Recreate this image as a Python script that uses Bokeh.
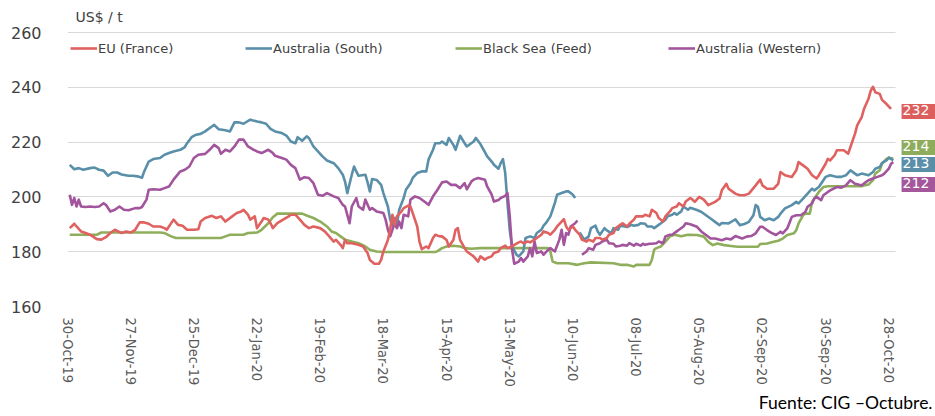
import numpy as np
import pandas as pd
from bokeh.plotting import figure
from bokeh.models import (Range1d, FixedTicker, DatetimeTickFormatter, Label, Title,
                          Legend, LegendItem, ColumnDataSource, BoxAnnotation)
from bokeh.embed import file_html
from bokeh.resources import INLINE

# ---------------- data (days since 30-Oct-19, US$/t) ----------------
START_DATE = "2019-10-30"

eu_france = [
    (1, 188.6), (3, 190.2), (4, 189.2), (6, 187.4), (8, 186.8), (10, 186.2), (13, 184.6), (15, 184.4),
    (17, 185.3), (19, 186.8), (21, 188.0), (24, 186.8), (26, 187.4), (28, 187.0), (30, 188.0), (32, 190.7),
    (34, 190.7), (36, 190.2), (38, 189.2), (41, 189.2), (43, 188.6), (44, 188.0), (47, 191.7), (49, 189.8),
    (51, 189.5), (53, 188.0), (56, 188.0), (58, 188.2), (59, 191.0), (61, 192.3), (64, 193.1), (66, 192.3),
    (68, 192.9), (70, 191.0), (73, 192.9), (75, 194.1), (77, 194.7), (78, 195.3), (80, 193.5), (81, 191.7),
    (83, 192.9), (84, 188.6), (86, 191.0), (87, 192.3), (89, 191.7), (90, 190.4), (91, 188.6), (92, 189.5),
    (93, 190.4), (95, 191.4), (98, 192.9), (99, 193.5), (101, 193.5), (103, 191.7), (105, 189.8), (107, 188.6),
    (109, 189.2), (112, 188.6), (114, 187.4), (116, 185.6), (118, 183.7), (119, 184.3), (121, 182.5), (122, 181.3),
    (123, 184.3), (124, 183.1), (126, 183.1), (129, 182.5), (131, 181.9), (133, 179.5), (134, 177.0), (136, 175.6),
    (138, 175.6), (139, 177.0), (140, 180.1), (142, 184.3), (143, 188.0), (144, 193.5), (145, 189.8), (146, 192.9),
    (148, 194.7), (149, 195.9), (151, 196.8), (152, 196.5), (153, 194.1), (155, 189.2), (156, 183.7), (157, 180.9),
    (159, 181.9), (160, 181.3), (162, 185.0), (163, 186.2), (165, 185.6), (166, 185.6), (168, 184.3), (169, 181.9),
    (171, 184.3), (172, 188.0), (173, 188.6), (174, 184.3), (176, 181.3), (177, 180.1), (179, 178.9), (180, 178.3),
    (182, 176.4), (183, 178.3), (185, 177.1), (186, 177.7), (188, 178.3), (189, 179.5), (191, 180.1), (192, 181.3),
    (194, 182.2), (195, 181.3), (197, 181.9), (198, 182.5), (200, 183.4), (201, 183.7), (202, 183.1), (204, 183.7),
    (205, 183.4), (207, 184.4), (208, 185.0), (210, 186.2), (211, 187.4), (213, 186.8), (214, 186.2), (216, 188.0),
    (217, 189.2), (219, 191.0), (220, 191.9), (221, 189.2), (222, 188.0), (224, 189.2), (225, 188.0), (227, 186.2),
    (228, 184.4), (230, 183.7), (231, 184.4), (233, 183.7), (234, 185.0), (236, 185.0), (237, 184.4), (239, 185.0),
    (240, 186.2), (242, 186.8), (243, 188.6), (245, 189.8), (246, 190.4), (248, 189.2), (249, 190.2), (251, 191.7),
    (252, 192.9), (254, 192.9), (255, 192.9), (256, 193.5), (258, 192.9), (259, 195.3), (261, 194.1), (262, 192.3),
    (264, 191.0), (265, 192.9), (267, 194.7), (268, 195.9), (270, 196.5), (271, 197.7), (273, 196.5), (274, 198.3),
    (276, 199.6), (277, 199.0), (278, 198.2), (280, 200.0), (282, 199.0), (284, 197.0), (287, 198.2), (289, 199.4),
    (290, 202.4), (292, 204.8), (293, 203.0), (296, 201.2), (298, 200.6), (300, 200.6), (302, 201.2), (305, 204.2),
    (307, 206.3), (308, 204.2), (310, 203.0), (313, 203.0), (315, 204.8), (316, 209.1), (318, 207.9), (321, 207.3),
    (323, 209.7), (324, 212.7), (326, 211.5), (328, 210.3), (330, 207.9), (332, 206.7), (333, 207.9), (336, 212.1),
    (337, 213.9), (338, 213.3), (340, 215.2), (341, 217.0), (344, 217.0), (346, 215.8), (347, 218.2), (349, 223.0),
    (350, 226.1), (352, 229.1), (353, 232.1), (355, 235.8), (356, 238.8), (357, 240.2), (358, 238.2), (360, 237.6),
    (361, 235.4), (363, 233.9), (365, 232.1),
]

australia_south = [
    (1, 211.7), (3, 210.1), (5, 210.5), (7, 209.9), (10, 210.5), (12, 210.7), (14, 209.9), (16, 209.6),
    (18, 207.7), (20, 208.9), (22, 208.9), (24, 208.2), (27, 207.7), (29, 207.7), (31, 207.5), (33, 207.0),
    (34, 209.3), (36, 212.9), (38, 213.8), (41, 214.2), (43, 215.4), (45, 216.0), (47, 216.6), (50, 217.2),
    (52, 218.2), (53, 219.6), (55, 221.8), (57, 222.7), (59, 223.0), (61, 223.9), (64, 225.7), (65, 226.3),
    (67, 224.7), (70, 224.3), (72, 223.9), (74, 227.2), (76, 227.2), (78, 226.7), (81, 228.2), (84, 227.5),
    (86, 227.2), (88, 226.7), (90, 224.8), (92, 223.9), (95, 223.3), (97, 222.4), (99, 220.2), (101, 219.6),
    (102, 221.8), (104, 220.5), (106, 222.1), (107, 221.5), (109, 218.4), (111, 216.6), (113, 214.8), (115, 213.3),
    (118, 212.3), (120, 210.5), (122, 208.1), (123, 205.6), (124, 201.4), (126, 208.1), (127, 211.1), (128, 209.3),
    (129, 207.7), (132, 208.1), (133, 205.3), (134, 202.0), (135, 206.5), (137, 206.2), (139, 204.4), (140, 201.4),
    (142, 196.5), (143, 191.7), (144, 189.8), (145, 192.3), (146, 189.8), (147, 195.3), (149, 199.6), (150, 202.6),
    (152, 205.0), (153, 206.9), (155, 208.7), (157, 209.3), (159, 209.3), (160, 213.6), (162, 217.2), (163, 219.6),
    (165, 219.6), (166, 220.2), (168, 219.0), (169, 221.5), (171, 219.0), (172, 217.2), (174, 222.3), (176, 219.6),
    (177, 218.4), (180, 220.2), (181, 221.5), (183, 219.3), (185, 216.3), (186, 214.8), (188, 212.9), (189, 211.7),
    (191, 210.3), (192, 212.3), (193, 213.8), (194, 208.7), (195, 197.8), (196, 188.0), (197, 181.9), (199, 178.9),
    (200, 178.3), (202, 180.1), (203, 185.0), (205, 185.6), (207, 185.0), (208, 186.8), (210, 188.0), (211, 189.5),
    (212, 190.4), (214, 192.9), (215, 195.3), (216, 197.8), (217, 200.8), (219, 201.4), (221, 202.0), (222, 202.0),
    (224, 200.8), (225, 199.6), (226, None),
    (227, 187.0), (229, 184.4), (231, 185.6), (232, 188.6), (234, 189.5), (235, 187.4), (236, 186.2), (238, 188.6),
    (239, 187.8), (241, 186.8), (242, 188.6), (244, 188.0), (245, 189.5), (247, 189.2), (248, 189.0), (250, 189.8),
    (251, 189.5), (253, 189.8), (254, 190.4), (256, 190.2), (257, 189.2), (259, 189.2), (260, 188.6), (262, 189.8),
    (263, 190.4), (265, 191.7), (266, 192.9), (268, 193.5), (269, 194.1), (270, 193.5), (272, 194.7), (273, 196.5),
    (275, 195.3), (276, 196.0), (279, 195.2), (281, 194.5), (283, 193.3), (285, 192.1), (287, 190.9), (289, 189.7),
    (290, 190.5), (293, 190.3), (295, 191.3), (296, 191.8), (298, 189.7), (300, 190.1), (302, 190.9), (304, 193.3),
    (305, 197.0), (306, 196.4), (307, 192.7), (309, 191.5), (311, 192.1), (313, 191.5), (315, 192.7), (316, 193.9),
    (318, 195.8), (321, 197.0), (323, 198.2), (324, 197.6), (326, 199.4), (328, 201.2), (330, 203.0), (331, 202.4),
    (333, 203.6), (335, 206.1), (336, 207.3), (338, 207.9), (341, 207.3), (343, 207.3), (345, 207.9), (347, 209.7),
    (349, 208.5), (350, 207.9), (352, 208.5), (355, 207.9), (357, 209.1), (358, 210.3), (360, 210.9), (361, 212.4),
    (363, 213.3), (364, 214.3), (366, 213.3),
]

black_sea = [
    (1, 186.2), (13, 186.2), (15, 187.0), (41, 187.0), (43, 186.8), (46, 185.6), (48, 185.0), (68, 185.0),
    (70, 185.6), (72, 186.2), (78, 186.2), (80, 186.8), (84, 187.0), (86, 188.0), (89, 190.4), (91, 192.6),
    (93, 193.9), (104, 193.9), (106, 193.2), (109, 192.3), (112, 191.0), (115, 189.2), (117, 187.4), (119, 186.8),
    (121, 185.6), (123, 184.4), (126, 183.7), (129, 183.1), (132, 181.9), (134, 180.7), (137, 180.1), (140, 179.9),
    (163, 179.9), (164, 180.2), (166, 181.3), (168, 181.9), (171, 182.2), (174, 181.9), (176, 181.3), (179, 181.1),
    (183, 181.3), (213, 181.3), (214, 180.1), (215, 176.4), (217, 175.8), (222, 175.8), (226, 175.2), (229, 175.8),
    (232, 176.1), (242, 175.8), (245, 175.2), (248, 175.2), (251, 174.6), (252, 175.2), (258, 175.2), (259, 177.1),
    (260, 180.7), (261, 181.3), (263, 181.9), (265, 183.7), (267, 185.6), (269, 186.2), (272, 185.6), (275, 186.2),
    (279, 186.1), (282, 185.5), (284, 183.6), (286, 182.4), (288, 183.0), (291, 182.4), (294, 182.1), (297, 181.8),
    (306, 181.8), (307, 182.8), (310, 183.0), (313, 183.6), (315, 184.0), (317, 184.8), (319, 186.1), (322, 186.7),
    (323, 187.9), (324, 190.3), (326, 193.3), (327, 193.9), (329, 193.9), (330, 198.2), (332, 200.6), (333, 201.8),
    (335, 203.6), (337, 203.9), (352, 203.9), (353, 204.2), (355, 204.5), (357, 206.1), (358, 208.5), (360, 209.7),
    (361, 212.1), (363, 213.9), (364, 214.3), (366, 214.0),
]

australia_western = [
    (1, 200.8), (2, 197.1), (3, 199.6), (4, 196.5), (5, 199.0), (6, 196.5), (8, 196.3), (10, 196.5),
    (12, 196.3), (14, 196.5), (16, 197.7), (17, 197.1), (19, 194.7), (21, 195.3), (23, 196.5), (25, 195.3),
    (27, 195.1), (30, 195.9), (32, 195.9), (33, 196.3), (35, 199.0), (36, 202.6), (38, 202.8), (41, 202.6),
    (43, 203.2), (45, 203.8), (47, 206.3), (50, 209.3), (52, 209.9), (54, 211.1), (56, 214.2), (58, 215.4),
    (61, 215.7), (63, 217.2), (65, 219.0), (67, 217.8), (68, 215.7), (70, 217.2), (72, 216.6), (74, 218.4),
    (76, 220.9), (78, 220.9), (80, 218.4), (82, 217.4), (84, 216.6), (86, 216.0), (89, 217.2), (90, 216.6),
    (91, 216.0), (92, 215.0), (95, 214.2), (97, 213.6), (99, 211.7), (101, 210.5), (103, 206.3), (105, 207.2),
    (107, 206.9), (109, 205.0), (111, 200.8), (113, 200.4), (115, 201.4), (118, 200.2), (120, 199.6), (122, 197.1),
    (123, 196.5), (125, 190.4), (126, 196.5), (128, 199.6), (129, 196.5), (131, 195.3), (132, 199.0), (134, 195.3),
    (135, 195.9), (137, 194.7), (140, 194.1), (141, 191.7), (142, 188.0), (143, 185.6), (145, 190.4), (146, 188.6),
    (147, 191.0), (148, 188.6), (149, 193.5), (151, 192.9), (152, 199.0), (154, 200.2), (156, 199.6), (158, 198.4),
    (160, 197.1), (162, 200.2), (164, 202.6), (166, 205.3), (168, 205.6), (170, 204.4), (172, 204.4), (174, 203.2),
    (176, 205.0), (177, 202.8), (179, 205.6), (180, 206.3), (182, 206.9), (185, 206.3), (186, 203.8), (188, 200.8),
    (189, 198.3), (191, 198.9), (192, 199.6), (194, 200.4), (195, 201.4), (196, 193.0), (197, 181.0), (198, 175.6),
    (200, 176.4), (201, 177.7), (202, 176.4), (204, 178.3), (205, 181.3), (206, 178.3), (207, 183.7), (208, 179.5),
    (210, 180.1), (211, 178.9), (213, 180.7), (214, 181.3), (216, 180.1), (218, 184.4), (219, 188.0), (220, 182.5),
    (221, 186.8), (222, 186.2), (223, 189.2), (225, 190.4), (226, 191.4), (227, None),
    (228, 178.9), (230, 180.1), (231, 181.3), (233, 180.7), (234, 182.5), (236, 183.1), (237, 183.7), (239, 184.4),
    (240, 183.1), (242, 182.9), (243, 181.9), (245, 182.2), (246, 182.5), (248, 182.2), (249, 183.1), (251, 182.2),
    (252, 182.9), (254, 182.2), (255, 182.9), (256, 182.5), (258, 182.9), (259, 182.9), (261, 183.1), (262, 183.7),
    (264, 183.1), (265, 185.6), (267, 186.2), (268, 186.2), (270, 187.4), (271, 188.0), (273, 189.2), (274, 190.4),
    (276, 190.0), (279, 189.1), (281, 187.3), (283, 186.1), (285, 184.8), (287, 184.8), (290, 184.2), (292, 184.8),
    (294, 184.5), (296, 185.7), (299, 184.8), (301, 185.5), (303, 185.7), (305, 186.7), (307, 189.1), (308, 189.1),
    (310, 187.9), (312, 186.9), (314, 186.1), (316, 187.3), (317, 186.7), (319, 188.5), (321, 192.7), (323, 193.3),
    (325, 193.3), (327, 194.5), (328, 196.4), (330, 197.6), (331, 199.4), (332, 200.0), (334, 198.8), (335, 200.6),
    (337, 201.8), (338, 202.4), (341, 203.6), (343, 203.4), (345, 204.2), (347, 206.1), (349, 204.8), (350, 204.6),
    (352, 204.2), (354, 205.5), (355, 206.1), (357, 206.7), (359, 207.3), (361, 207.9), (362, 208.5), (364, 210.3),
    (365, 212.1), (366, 212.7),
]

series_names = ["EU (France)", "Australia (South)", "Black Sea (Feed)", "Australia (Western)"]
last_values = [232, 214, 213, 212]          # end-of-series tags (top to bottom)
last_value_series = ["EU (France)", "Black Sea (Feed)", "Australia (South)", "Australia (Western)"]
x_tick_labels = ["30-Oct-19", "27-Nov-19", "25-Dec-19", "22-Jan-20", "19-Feb-20", "18-Mar-20", "15-Apr-20",
                 "13-May-20", "10-Jun-20", "08-Jul-20", "05-Aug-20", "02-Sep-20", "30-Sep-20", "28-Oct-20"]
y_ticks = [160, 180, 200, 220, 240, 260]

# ---------------- styling / layout ----------------
COLORS = {
    "EU (France)": "#df6260",
    "Australia (South)": "#5a8fa9",
    "Black Sea (Feed)": "#8fae5b",
    "Australia (Western)": "#a2559c",
}
TAG_COLORS = {
    "EU (France)": "#dd5f5d",
    "Australia (South)": "#5b8ea8",
    "Black Sea (Feed)": "#8fac5c",
    "Australia (Western)": "#a4579b",
}
TAG_Y = [231.2, 218.0, 211.8, 204.5]   # tag centres (value units), staggered to avoid overlap
LEGEND_X = [3, 178, 388, 601]          # screen offsets of legend items inside the frame
PLOT_DAYS = 367                        # plotted time span (grid lines end here)
FRAME_DAYS = 384.7                     # frame extends further right to hold the end tags
Y_TOP = 271.68                         # frame top (room for the unit label)

start = pd.Timestamp(START_DATE)
epoch = pd.Timestamp("1970-01-01")


def to_ms(ts):
    return (ts - epoch) / pd.Timedelta("1ms")


def make_source(pairs):
    days = [d for d, _ in pairs]
    vals = [np.nan if v is None else v for _, v in pairs]
    dates = start + pd.to_timedelta(days, unit="D")
    return ColumnDataSource(data=dict(date=dates, value=vals))


x_start = start
x_plot_end = start + pd.Timedelta(days=PLOT_DAYS)
x_frame_end = start + pd.Timedelta(days=FRAME_DAYS)

p = figure(width=935, height=416, x_axis_type="datetime", output_backend="svg",
           toolbar_location=None,
           x_range=Range1d(x_start, x_frame_end), y_range=Range1d(160, Y_TOP),
           min_border_left=67, min_border_right=0, min_border_top=0, min_border_bottom=110)
p.outline_line_color = None
p.background_fill_color = "white"
p.border_fill_color = "white"

p.xgrid.visible = False
p.ygrid.grid_line_color = "#d9d9d9"
p.ygrid.grid_line_width = 1

p.yaxis.ticker = FixedTicker(ticks=y_ticks)
p.yaxis.axis_line_color = None
p.yaxis.major_tick_line_color = None
p.yaxis.minor_tick_line_color = None
p.yaxis.major_label_standoff = 20
p.yaxis.major_label_text_font = "DejaVu Sans"
p.yaxis.major_label_text_font_size = "16px"
p.yaxis.major_label_text_color = "#404040"

tick_ms = [to_ms(pd.to_datetime(t, format="%d-%b-%y")) for t in x_tick_labels]
p.xaxis.ticker = FixedTicker(ticks=tick_ms)
fmt = "%d-%b-%y"
p.xaxis.formatter = DatetimeTickFormatter(days=fmt, months=fmt, years=fmt, hours=fmt,
                                          minutes=fmt, seconds=fmt, milliseconds=fmt,
                                          microseconds=fmt, minsec=fmt, hourmin=fmt)
p.xaxis.axis_line_color = None
p.xaxis.major_tick_line_color = None
p.xaxis.minor_tick_line_color = None
p.xaxis.major_label_orientation = "vertical"
p.xaxis.major_label_standoff = 5
p.xaxis.major_label_text_font = "'DejaVu Sans Condensed', sans-serif"
p.xaxis.major_label_text_font_size = "14.5px"
p.xaxis.major_label_text_color = "#5a5a5a"

series = {
    "EU (France)": eu_france,
    "Australia (South)": australia_south,
    "Black Sea (Feed)": black_sea,
    "Australia (Western)": australia_western,
}
draw_order = ["Black Sea (Feed)", "Australia (South)", "Australia (Western)", "EU (France)"]
renderers = {}
for name in draw_order:
    renderers[name] = p.line("date", "value", source=make_source(series[name]),
                             line_color=COLORS[name], line_width=2.6, line_join="round")

# blank the area right of the plotted span (grid lines stop there)
p.add_layout(BoxAnnotation(left=to_ms(x_plot_end), fill_color="white", fill_alpha=1.0,
                           line_color=None))

for name, lx in zip(series_names, LEGEND_X):
    lg = Legend(items=[LegendItem(label=name, renderers=[renderers[name]])],
                location=(lx, 250), orientation="horizontal",
                border_line_color=None, background_fill_alpha=0,
                padding=0, margin=0, spacing=0,
                glyph_width=27, glyph_height=16, label_height=16, label_standoff=1,
                label_text_font="DejaVu Sans", label_text_font_size="13px",
                label_text_color="#404040")
    p.add_layout(lg)

for val, name, ty in zip(last_values, last_value_series, TAG_Y):
    p.add_layout(Label(x=to_ms(x_plot_end), y=ty, x_offset=6, text=str(val),
                       text_color="white", text_font="DejaVu Sans", text_font_size="14px",
                       text_align="left", text_baseline="middle",
                       background_fill_color=TAG_COLORS[name], border_line_color=None,
                       padding=(1, 20, 1, 4)))

p.add_layout(Label(x=to_ms(x_start), y=265.84, x_offset=8, text="US$ / t",
                   text_font="DejaVu Sans", text_font_size="14px", text_color="#404040",
                   text_align="left", text_baseline="middle"))

p.add_layout(Title(text="Fuente: CIG \u2013Octubre.", align="right", offset=3,
                   text_font="Lato", text_font_size="17.5px", text_font_style="normal",
                   text_color="#000000", standoff=0), "below")

open("out.html", "w").write(file_html(p, INLINE))
